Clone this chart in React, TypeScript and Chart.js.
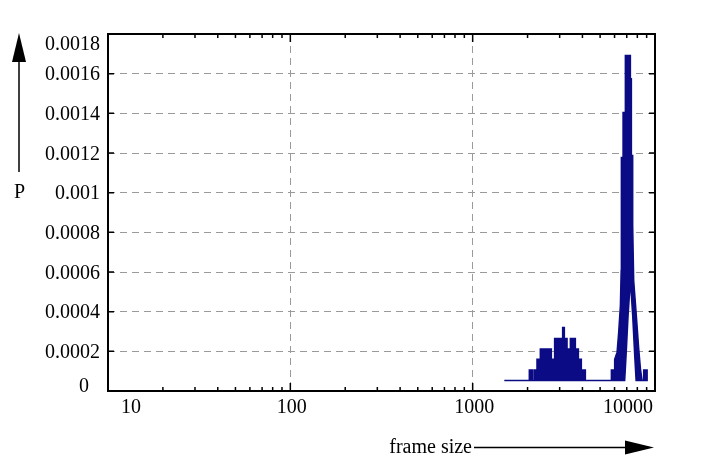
import React, { useEffect, useRef } from "react";
import { Chart, registerables } from "chart.js";

Chart.register(...registerables);

// upper edge of the drawn distribution (frame size, probability)
const upperFrameSize = [
  1491, 2045, 2045, 2132, 2132, 2178, 2178, 2253, 2253, 2350, 2350, 2701, 2701,
  2815, 2815, 3115, 3115, 3183, 3183, 3293, 3293, 3434, 3434, 3658, 3658, 3800,
  3800, 3945, 3945, 4150, 4150, 5765, 5765, 6009, 6009, 6195, 6322, 6459, 6523,
  6540, 6540, 6681, 6681, 6878, 6878, 7328, 7328, 7421, 7421, 7544, 7544, 7640,
  7878, 8140, 8317, 8496, 8670, 8670, 9053, 9053,
];
const upperP = [
  0.000053, 0.000053, 0.000106, 0.000106, 0.000053, 0.000053, 0.000106,
  0.000106, 0.00016, 0.00016, 0.000212, 0.000212, 0.00016, 0.00016, 0.000265,
  0.000265, 0.00032, 0.00032, 0.000265, 0.000265, 0.000212, 0.000212, 0.000265,
  0.000265, 0.000212, 0.000212, 0.00016, 0.00016, 0.000106, 0.000106, 0.000053,
  0.000053, 0.000106, 0.000106, 0.00016, 0.000196, 0.000296, 0.000431, 0.000607,
  0.000834, 0.001177, 0.001177, 0.001404, 0.001404, 0.001691, 0.001691,
  0.001575, 0.001575, 0.001187, 0.001187, 0.000834, 0.000557, 0.000396,
  0.000214, 0.000113, 0.000053, 0.000053, 0.000106, 0.000106, 0.000053,
];

// lower edge (the hollow under the main peak)
const lowerFrameSize = [1491, 6818, 6940, 7118, 7328, 7544, 7739, 7878, 9053];
const lowerP = [
  0.000053, 0.000053, 0.000179, 0.000381, 0.000557, 0.000381, 0.000179,
  0.000053, 0.000053,
];

const xTickValues = [10, 100, 1000, 10000];
const xTickLabels = ["10", "100", "1000", "10000"];
const yTickValues = [
  0, 0.0002, 0.0004, 0.0006, 0.0008, 0.001, 0.0012, 0.0014, 0.0016, 0.0018,
];
const yTickLabels = [
  "0", "0.0002", "0.0004", "0.0006", "0.0008", "0.001", "0.0012", "0.0014",
  "0.0016", "0.0018",
];

const FONT = "'Liberation Serif', 'Times New Roman', Times, serif";
const NAVY = "#0b0b85";

const framePlugin = {
  id: "frame",
  afterDraw(chart: any) {
    const { ctx, chartArea: a } = chart;
    const xs = chart.scales.x;
    const ys = chart.scales.y;
    ctx.save();

    // frame
    ctx.strokeStyle = "#000";
    ctx.lineWidth = 2;
    ctx.strokeRect(a.left, a.top, a.right - a.left, a.bottom - a.top);

    // x tick marks, inside, top and bottom
    ctx.lineWidth = 1.5;
    ctx.beginPath();
    for (let d = 10; d < 10000; d *= 10) {
      for (let m = 1; m < 10; m++) {
        const px = xs.getPixelForValue(d * m);
        const len = m === 1 ? 8 : 4;
        ctx.moveTo(px, a.bottom);
        ctx.lineTo(px, a.bottom - len);
        ctx.moveTo(px, a.top);
        ctx.lineTo(px, a.top + len);
      }
    }
    // y tick marks, inside, left and right
    yTickValues.forEach((v) => {
      const py = ys.getPixelForValue(v);
      ctx.moveTo(a.left, py);
      ctx.lineTo(a.left + 6, py);
      ctx.moveTo(a.right, py);
      ctx.lineTo(a.right - 6, py);
    });
    ctx.stroke();

    // tick labels
    ctx.fillStyle = "#000";
    ctx.font = `20px ${FONT}`;
    ctx.textBaseline = "alphabetic";
    xTickValues.forEach((v, i) => {
      const px = xs.getPixelForValue(v);
      if (i === 0) {
        ctx.textAlign = "left";
        ctx.fillText(xTickLabels[i], px + 13, a.bottom + 21.5);
      } else if (i === xTickValues.length - 1) {
        ctx.textAlign = "right";
        ctx.fillText(xTickLabels[i], px - 2, a.bottom + 21.5);
      } else {
        ctx.textAlign = "center";
        ctx.fillText(xTickLabels[i], px + 1.5, a.bottom + 21.5);
      }
    });
    ctx.textAlign = "right";
    yTickValues.forEach((v, i) => {
      const py = ys.getPixelForValue(v);
      if (i === 0) {
        ctx.fillText(yTickLabels[i], a.left - 19, a.bottom + 0.5);
      } else if (i === yTickValues.length - 1) {
        ctx.fillText(yTickLabels[i], a.left - 8, a.top + 15.5);
      } else {
        ctx.fillText(yTickLabels[i], a.left - 8, py + 6.5);
      }
    });

    // axis captions with arrows
    ctx.lineWidth = 1.5;
    ctx.beginPath();
    ctx.moveTo(19, 172);
    ctx.lineTo(19, 55);
    ctx.stroke();
    ctx.beginPath();
    ctx.moveTo(19, 33);
    ctx.lineTo(12, 62);
    ctx.lineTo(26, 62);
    ctx.closePath();
    ctx.fill();
    ctx.textAlign = "center";
    ctx.fillText("P", 19.5, 198);

    ctx.textAlign = "right";
    ctx.fillText("frame size", 472, 452.5);
    ctx.beginPath();
    ctx.moveTo(474, 447.5);
    ctx.lineTo(630, 447.5);
    ctx.stroke();
    ctx.beginPath();
    ctx.moveTo(654, 447.5);
    ctx.lineTo(625, 440.5);
    ctx.lineTo(625, 454.5);
    ctx.closePath();
    ctx.fill();

    ctx.restore();
  },
};

const App: React.FC = () => {
  const chartRef = useRef<HTMLCanvasElement | null>(null);

  useEffect(() => {
    if (!chartRef.current) return;
    // closed outline: along the upper edge, then back along the lower edge
    const outline = [
      ...upperFrameSize.map((x, i) => ({ x, y: upperP[i] })),
      ...lowerFrameSize.map((x, i) => ({ x, y: lowerP[i] })).reverse(),
    ];

    const gridColor = (ctx: any) => {
      const i = ctx.index;
      const n = ctx.scale.ticks.length;
      return i === 0 || i === n - 1 ? "rgba(0,0,0,0)" : "#9a9a9a";
    };

    const chart = new Chart(chartRef.current, {
      type: "line",
      data: {
        datasets: [
          {
            label: "P",
            data: outline,
            borderColor: NAVY,
            backgroundColor: NAVY,
            borderWidth: 1.5,
            pointRadius: 0,
            tension: 0,
            fill: "shape",
          },
        ],
      },
      options: {
        animation: false,
        responsive: true,
        maintainAspectRatio: false,
        layout: { padding: { left: 108, top: 34, right: 50, bottom: 76 } },
        plugins: {
          legend: { display: false },
          tooltip: { enabled: false },
        },
        scales: {
          x: {
            type: "logarithmic",
            min: 10,
            max: 10000,
            afterBuildTicks: (scale: any) => {
              scale.ticks = xTickValues.map((v) => ({ value: v }));
            },
            afterFit: (scale: any) => {
              scale.height = 0;
            },
            ticks: { display: false },
            border: { display: false, dash: [7, 5] },
            grid: { drawTicks: false, color: gridColor, lineWidth: 1 },
          },
          y: {
            type: "linear",
            min: 0,
            max: 0.0018,
            afterBuildTicks: (scale: any) => {
              scale.ticks = yTickValues.map((v) => ({ value: v }));
            },
            afterFit: (scale: any) => {
              scale.width = 0;
            },
            ticks: { display: false },
            border: { display: false, dash: [7, 5] },
            grid: { drawTicks: false, color: gridColor, lineWidth: 1 },
          },
        },
      },
      plugins: [framePlugin],
    });

    return () => {
      chart.destroy();
    };
  }, []);

  return (
    <div
      style={{
        position: "absolute",
        left: 0,
        top: 0,
        width: 705,
        height: 467,
        background: "#fff",
      }}
    >
      <canvas ref={chartRef} />
    </div>
  );
};

export default App;
